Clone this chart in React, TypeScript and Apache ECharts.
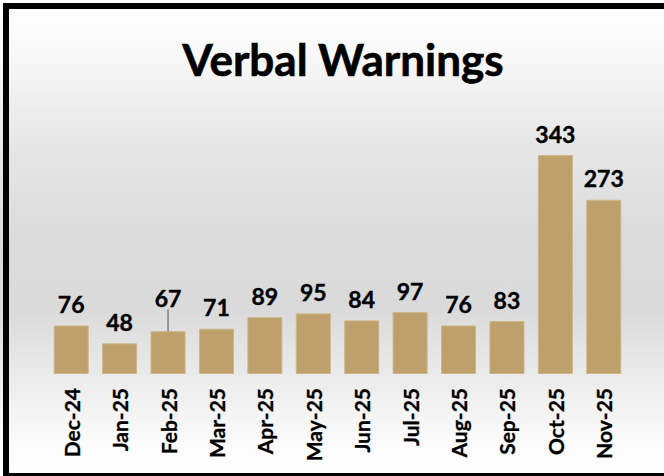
import React, { useEffect, useRef } from "react";
import * as echarts from "echarts";

const months = ["Dec-24", "Jan-25", "Feb-25", "Mar-25", "Apr-25", "May-25", "Jun-25", "Jul-25", "Aug-25", "Sep-25", "Oct-25", "Nov-25"];
const warnings = [76, 48, 67, 71, 89, 95, 84, 97, 76, 83, 343, 273];
const titleText = "Verbal Warnings";
const raisedLabelIndex = 2;

export default function App() {
  const ref = useRef<HTMLDivElement>(null);
  useEffect(() => {
    document.body.style.margin = "0";
    const chart = echarts.init(ref.current!, null, { renderer: "svg" });
    const font = "Lato, 'Open Sans', sans-serif";
    chart.setOption({
      animation: false,
      backgroundColor: new echarts.graphic.LinearGradient(0, 0, 0, 1, [
        { offset: 0, color: "#ffffff" },
        { offset: 0.12, color: "#f8f8f8" },
        { offset: 0.3, color: "#e7e7e7" },
        { offset: 0.5, color: "#dbdbdb" },
        { offset: 0.65, color: "#dadada" },
        { offset: 0.8, color: "#ececec" },
        { offset: 0.92, color: "#fafafa" },
        { offset: 1, color: "#ffffff" },
      ]),
      title: {
        text: titleText,
        left: 338,
        top: 32,
        textAlign: "center",
        textStyle: {
          fontFamily: font,
          fontWeight: "bold",
          fontSize: 44,
          color: "#000",
          textBorderColor: "#000",
          textBorderWidth: 0.6,
        },
      },
      graphic: [
        {
          type: "rect",
          shape: { x: 6, y: 6, width: 720, height: 470 },
          style: { fill: "none", stroke: "#000", lineWidth: 6 },
          z: 100,
        },
      ],
      grid: { left: 47, width: 581, top: 150.6, height: 223.4, containLabel: false },
      xAxis: {
        type: "category",
        data: months,
        axisLine: { show: false },
        axisTick: { show: false },
        axisLabel: {
          rotate: 90,
          margin: 14,
          interval: 0,
          fontFamily: font,
          fontWeight: "bold",
          fontSize: 21,
          color: "#000",
          textBorderColor: "#000",
          textBorderWidth: 0.3,
        },
      },
      yAxis: {
        type: "value",
        min: 0,
        max: 350,
        show: false,
        splitLine: { show: false },
      },
      series: [
        {
          type: "bar",
          barWidth: 35,
          data: warnings.map((v, i) =>
            i === raisedLabelIndex
              ? { value: v, labelLine: { show: true, lineStyle: { color: "#808080", width: 1.5 } } }
              : v
          ),
          itemStyle: { color: "#BDA06B", borderColor: "#cdb588", borderWidth: 1 },
          label: {
            show: true,
            position: "top",
            distance: 10,
            fontFamily: font,
            fontWeight: "bold",
            fontSize: 23,
            color: "#000",
            textBorderColor: "#000",
            textBorderWidth: 0.4,
          },
          labelLayout: (p: any) => (p.dataIndex === raisedLabelIndex ? { dy: -12 } : {}),
        },
      ],
    });
    return () => chart.dispose();
  }, []);
  return <div ref={ref} style={{ position: "absolute", left: 0, top: 0, width: 664, height: 476 }} />;
}
